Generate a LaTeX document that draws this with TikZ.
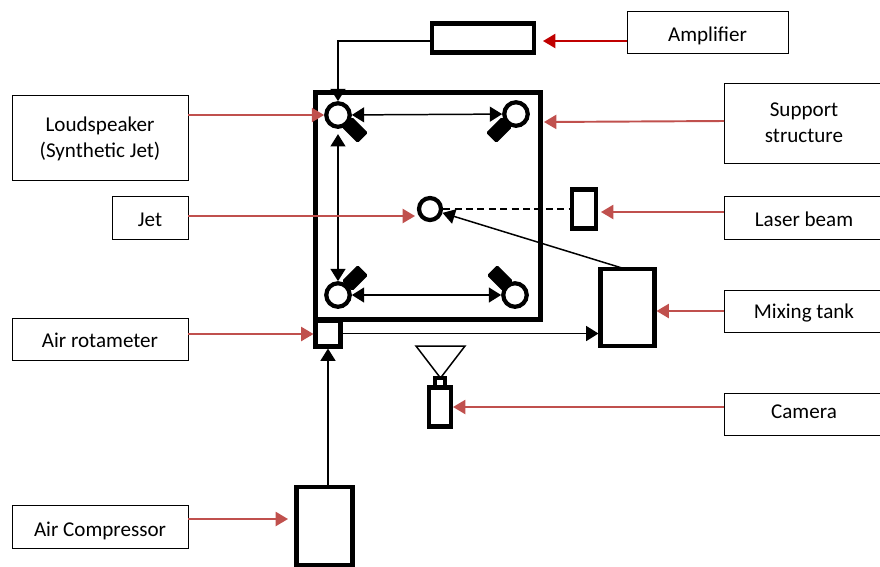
\documentclass[tikz,border=0pt]{standalone}
\usepackage{fontspec}
\setmainfont{Carlito}
\usetikzlibrary{arrows.meta}
\definecolor{brickred}{HTML}{C0504D}
\definecolor{darkred}{HTML}{C00000}
\tikzset{
  labelbox/.style={draw,line width=0.55pt,inner sep=0pt,align=center,font=\fontsize{12}{14.8}\selectfont,baselift=5.1pt},
  baselift/.style={text height={8pt+#1},text depth={8pt-#1}},
  heavybox/.style={draw,line width=2.3pt,inner sep=0pt},
  ring/.style={draw,circle,line width=2.4pt,inner sep=0pt,minimum size=0.47cm},
  driver/.style={fill=black,rounded corners=0.8pt,inner sep=0pt,minimum width=0.44cm,minimum height=0.29cm},
  wire/.style={line width=0.85pt},
  redline/.style={brickred,line width=1.1pt,-{Triangle[length=7pt,width=8pt]}}
}
\begin{document}
\begin{tikzpicture}[x=0.02cm,y=-0.02cm,>={Triangle[length=7pt,width=8.5pt]}]
  \useasboundingbox (0,0) rectangle (880,566);
  % labels
  \node[labelbox,baselift=5.3pt,minimum width=3.22cm,minimum height=0.84cm] (amplifier) at (707.5,32) {Amplifier};
  \node[labelbox,baselift=14.2pt,minimum width=3.2cm,minimum height=1.6cm] (support) at (804,123) {Support\\structure};
  \node[labelbox,baselift=14.2pt,minimum width=3.52cm,minimum height=1.7cm] (loudspeaker) at (100,137.5) {Loudspeaker\\(Synthetic Jet)};
  \node[labelbox,minimum width=1.52cm,minimum height=0.86cm] (jetlabel) at (150,217.5) {Jet};
  \node[labelbox,minimum width=3.2cm,minimum height=0.86cm] (laser) at (804,217.5) {Laser beam};
  \node[labelbox,minimum width=3.52cm,minimum height=0.84cm] (rotlabel) at (100,339) {Air rotameter};
  \node[labelbox,baselift=4.5pt,minimum width=3.2cm,minimum height=0.84cm] (tanklabel) at (804,311) {Mixing tank};
  \node[labelbox,baselift=2.6pt,minimum width=3.2cm,minimum height=0.84cm] (cameralabel) at (804,414) {Camera};
  \node[labelbox,baselift=5.9pt,minimum width=3.52cm,minimum height=0.86cm] (complabel) at (100,526.5) {Air Compressor};
  % equipment
  \node[heavybox,minimum width=2.04cm,minimum height=0.58cm] (topbox) at (483,38) {};
  \node[draw,line width=2.8pt,inner sep=0pt,minimum width=4.5cm,minimum height=4.55cm] (frame) at (428,206) {};
  \node[heavybox,minimum width=0.48cm,minimum height=0.78cm] (laserbox) at (584,209) {};
  \node[heavybox,minimum width=1.08cm,minimum height=1.54cm] (tank) at (627.5,307.5) {};
  \node[heavybox,minimum width=0.5cm,minimum height=0.52cm] (rotameter) at (328,333.5) {};
  \node[heavybox,minimum width=1.12cm,minimum height=1.56cm] (compressor) at (324.5,526) {};
  \node[heavybox,minimum width=0.44cm,minimum height=0.78cm] (camera) at (440,407) {};
  \node[heavybox,line width=1.8pt,minimum width=0.2cm,minimum height=0.18cm] (lens) at (440,382.5) {};
  \draw[line width=0.85pt] (416,346) -- (465,346) -- (440.5,378) -- cycle;
  % loudspeakers
  \node[driver,rotate=-45] at (355,130) {};
  \node[driver,rotate=45] at (499,130) {};
  \node[driver,rotate=45] at (355,278) {};
  \node[driver,rotate=-45] at (500,278) {};
  \node[ring,fill=white] (spka) at (338,115) {};
  \node[ring,fill=white] (spkb) at (516,114) {};
  \node[ring,fill=white] (spkc) at (338,295) {};
  \node[ring,fill=white] (spkd) at (515,295) {};
  \node[ring,minimum size=0.44cm] (jet) at (430,209) {};
  % free ends
  \coordinate (wireout) at (431,41);
  \coordinate (ampstart) at (627,41);
  \coordinate (amptip) at (543,41);
  \coordinate (supstart) at (724,121);
  \coordinate (suptip) at (544,122);
  \coordinate (louder) at (188,115);
  \coordinate (jetstart) at (188,216);
  \coordinate (jettip) at (415,216);
  \coordinate (laserstart) at (724,212);
  \coordinate (lasertip) at (601,212);
  \coordinate (rotstart) at (188,334);
  \coordinate (camstart) at (724,407);
  \coordinate (comptip) at (288,519);
  \coordinate (tankout) at (622,268);
  % wires
  \draw[wire,->] (wireout) -- (338,41) -- (spka.north);
  \draw[wire,<->] (spka) -- (spkb);
  \draw[wire,<->] (spkc) -- (spkd);
  \draw[wire,<->,shorten <=3pt] (spka) -- (spkc);
  \draw[wire,dashed,dash pattern=on 4pt off 2.5pt] (jet) -- (laserbox);
  \draw[wire,->] (tankout) -- (jet);
  \draw[wire,->] (rotameter.east) -- (tank.west |- rotameter.east);
  \draw[wire,->] (compressor.north -| rotameter.south) -- (rotameter.south);
  % red arrows
  \draw[redline,darkred] (ampstart) -- (amptip);
  \draw[redline] (supstart) -- (suptip);
  \draw[redline] (louder) -- (spka);
  \draw[redline] (jetstart) -- (jettip);
  \draw[redline] (laserstart) -- (lasertip);
  \draw[redline] (rotstart) -- (rotameter.west |- rotstart);
  \draw[redline] (tanklabel.west) -- (tank.east |- tanklabel.west);
  \draw[redline] (camstart) -- (camera.east |- camstart);
  \draw[redline] (complabel.east |- comptip) -- (comptip);
\end{tikzpicture}
\end{document}
